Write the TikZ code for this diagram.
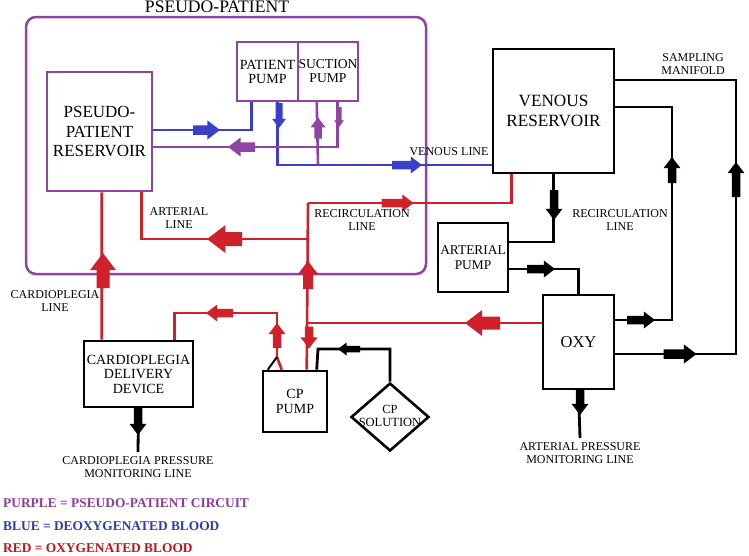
\documentclass[tikz,border=0pt]{standalone}
\usepackage{fontspec}
\setmainfont{Liberation Serif}
\usetikzlibrary{calc,shapes.geometric}
\definecolor{ppurple}{RGB}{142,68,160}
\definecolor{pblue}{RGB}{58,62,200}
\definecolor{pred}{RGB}{208,32,42}
\definecolor{lpurple}{RGB}{140,60,155}
\definecolor{lblue}{RGB}{46,58,180}
\definecolor{lred}{RGB}{192,20,28}
\newcommand{\barw}[6]{%
  \fill[#6,shift={(#1,#2)},rotate=#3]
   ({-#4/2},{-0.25*#5}) -- ({#4/2-0.66*#5},{-0.25*#5}) -- ({#4/2-0.66*#5},{-#5/2})
   -- ({#4/2},0) -- ({#4/2-0.66*#5},{#5/2}) -- ({#4/2-0.66*#5},{0.25*#5})
   -- ({-#4/2},{0.25*#5}) -- cycle;}
\begin{document}
\begin{tikzpicture}[x=1pt,y=-1pt,
  bbox/.style={draw=black,line width=2.6pt,inner sep=0pt,align=center},
  pbox/.style={draw=ppurple,line width=2.5pt,inner sep=0pt,align=center},
  lbl/.style={font=\fontsize{12}{13}\selectfont,align=center,inner sep=0pt},
  leg/.style={font=\fontsize{13.4}{15}\selectfont\bfseries,anchor=west,inner sep=0pt},
  bl/.style={pblue,line width=2.6pt},
  pl/.style={ppurple,line width=2.6pt},
  rl/.style={pred,line width=2.6pt},
  kl/.style={black,line width=2.8pt}]
\useasboundingbox (0,0) rectangle (749,555);
\fill[white] (0,0) rectangle (749,555);

% frame
\node[draw=ppurple,line width=2.5pt,rounded corners=10pt,minimum width=400pt,minimum height=257pt] (pp) at (226,145.5) {};
\node[font=\fontsize{17.6}{19}\selectfont,inner sep=0pt] (ttl) at (217,7) {PSEUDO-PATIENT};

% boxes
\node[pbox,minimum width=105pt,minimum height=119pt,font=\fontsize{17}{19.5}\selectfont] (pres) at (99.5,131.5) {PSEUDO-\\PATIENT\\RESERVOIR};
\node[pbox,minimum width=61pt,minimum height=59pt,font=\fontsize{14}{14}\selectfont] (ppump) at (267.5,71.5) {PATIENT\\PUMP};
\node[pbox,minimum width=60pt,minimum height=59pt,font=\fontsize{13.6}{14}\selectfont] (spump) at (328,71.5) {SUCTION\\PUMP};
\node[bbox,minimum width=121pt,minimum height=124pt,font=\fontsize{17.2}{19.5}\selectfont] (vres) at (553.5,111) {VENOUS\\RESERVOIR};
\node[bbox,minimum width=70pt,minimum height=69pt,font=\fontsize{13.4}{14.5}\selectfont] (apump) at (473,257.5) {ARTERIAL\\PUMP};
\node[bbox,minimum width=71pt,minimum height=94pt,font=\fontsize{16.5}{18}\selectfont] (oxy) at (578.5,342) {OXY};
\node[bbox,minimum width=109pt,minimum height=66pt,font=\fontsize{14}{14.5}\selectfont] (cdd) at (138.5,374) {CARDIOPLEGIA\\DELIVERY\\DEVICE};
\node[bbox,minimum width=64pt,minimum height=61pt,font=\fontsize{14}{14.5}\selectfont] (cpp) at (295,401.5) {CP\\PUMP};
\node[diamond,draw=black,line width=2.6pt,minimum width=78pt,minimum height=68pt,inner sep=0pt] (cps) at (390,417) {};
\node[font=\fontsize{12.5}{13.5}\selectfont,align=center,inner sep=0pt] (cpst) at (390,416) {CP\\SOLUTION};

% blue lines
\draw[bl] (pres.east |- 0,130) -| ($(ppump.south west)+(16,0)$);
\draw[bl] ($(ppump.south west)+(42,0)$) |- (vres.west |- 0,165);
% purple lines
\draw[pl] (pres.east |- 0,147) -| ($(spump.south west)+(41,0)$);
\coordinate (j1) at (318,165);
\draw[pl] (j1) -- ($(spump.south west)+(20,0)$);
% red lines
\coordinate (rtop) at (308,203);
\coordinate (rmid) at (308,239);
\coordinate (roxy) at (308,323);
\draw[rl] ($(pres.south west)+(96,0)$) |- (rmid);
\draw[rl] (rtop) -- ($(cpp.north west)+(45,0)$);
\draw[rl] (rtop) -| ($(vres.south west)+(20,0)$);
\draw[rl] (oxy.west |- roxy) -- (roxy);
\draw[rl] ($(cdd.north west)+(19,0)$) -- ($(pres.south west)+(56,0)$);
\coordinate (cpj) at (277,357);
\draw[rl] ($(cdd.north west)+(92,0)$) |- (277,313) -- (cpj);
\draw[rl] (cpj) -- ($(cpp.north west)+(20,0)$);
\draw[kl,line width=2pt] (cpj) -- ($(cpp.north west)+(6,0)$);
% black lines
\draw[kl] (vres.south) |- (apump.east |- 0,242);
\draw[kl] (apump.east |- 0,269) -| (oxy.north);
\draw[kl] (oxy.east |- 0,320) -| (672,107) -- (vres.east |- 0,107);
\draw[kl] (oxy.east |- 0,354) -| (736,80) -- (vres.east |- 0,80);
\coordinate (apm) at (580,438);
\draw[kl] (oxy.south) -- (apm);
\coordinate (cpm) at (138,452);
\draw[kl] (cdd.south) -- (cpm);
\draw[kl] (cps.north) |- (318,349) -- ($(cpp.north west)+(55,0)$);

% arrows
\barw{206.5}{130}{0}{27}{19}{pblue}
\barw{279}{115.5}{270}{25}{14}{pblue}
\barw{407}{165}{0}{30}{17}{pblue}
\barw{241.5}{147}{180}{27}{19}{ppurple}
\barw{318}{128}{90}{21}{15}{ppurple}
\barw{339}{117}{270}{20}{10}{ppurple}
\barw{224.5}{239}{180}{35}{28}{pred}
\barw{397.5}{203}{0}{32}{17}{pred}
\barw{103}{270.5}{90}{35}{26}{pred}
\barw{308}{275}{90}{28}{20}{pred}
\barw{219.5}{313}{180}{27}{17}{pred}
\barw{277}{335.5}{90}{25}{17}{pred}
\barw{309}{337.5}{270}{22}{17}{pred}
\barw{482.5}{323}{180}{35}{26}{pred}
\barw{554}{205}{270}{30}{17}{black}
\barw{541}{269}{0}{28}{17}{black}
\barw{641}{320}{0}{28}{17}{black}
\barw{680}{354}{0}{33}{19}{black}
\barw{672}{170}{90}{26}{17}{black}
\barw{736}{179.5}{90}{35}{17}{black}
\barw{349}{349}{180}{22}{13}{black}
\barw{580}{402.5}{270}{25}{17}{black}
\barw{138}{421}{270}{28}{17}{black}

% labels
\node[lbl] (l1) at (55,301) {CARDIOPLEGIA\\LINE};
\node[lbl] (l2) at (179,218) {ARTERIAL\\LINE};
\node[lbl] (l3) at (362,220) {RECIRCULATION\\LINE};
\node[lbl] (l4) at (449,152) {VENOUS LINE};
\node[lbl] (l5) at (620,220) {RECIRCULATION\\LINE};
\node[lbl] (l6) at (693,64) {SAMPLING\\MANIFOLD};
\node[lbl,anchor=north] (l7) at ($(apm)+(0,4)$) {ARTERIAL PRESSURE\\MONITORING LINE};
\node[lbl,anchor=north] (l8) at ($(cpm)+(0,4)$) {CARDIOPLEGIA PRESSURE\\MONITORING LINE};

% legend
\node[leg,lpurple] (g1) at (3,503) {PURPLE = PSEUDO-PATIENT CIRCUIT};
\node[leg,lblue] (g2) at (3,526) {BLUE = DEOXYGENATED BLOOD};
\node[leg,lred] (g3) at (3,548) {RED = OXYGENATED BLOOD};
\end{tikzpicture}
\end{document}
